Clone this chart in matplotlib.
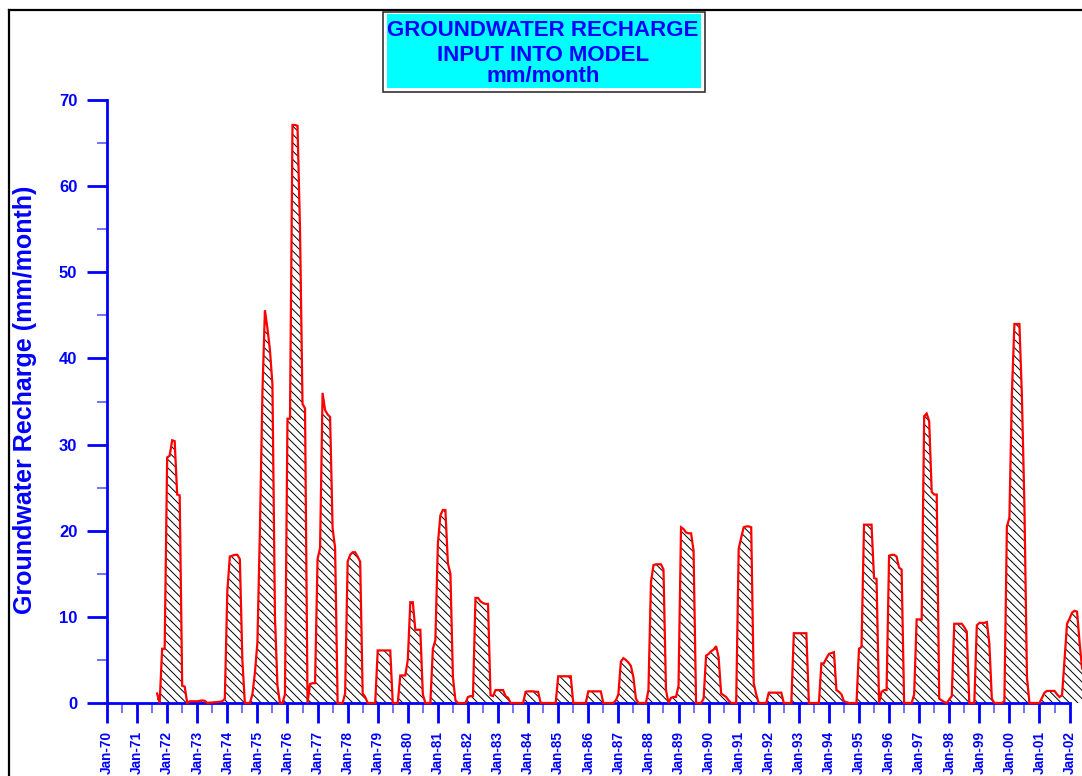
import matplotlib
matplotlib.use('Agg')
import matplotlib.pyplot as plt
from matplotlib.patches import Rectangle
from matplotlib.lines import Line2D
import numpy as np

plt.rcParams['font.family'] = ['Liberation Sans', 'DejaVu Sans']
plt.rcParams['font.weight'] = 'bold'
plt.rcParams['hatch.linewidth'] = 0.7
plt.rcParams['hatch.color'] = 'black'

# ---------------- data (mm/month), monthly values ----------------
first_year, first_month = 1971, 9          # series starts Sep-1971
rech_1971 = [1.1, 0.0, 6.3, 6.3]
rech_1972 = [28.5, 28.7, 30.5, 30.4, 24.2, 24.1, 2.0, 1.9, 0.0, 0.2, 0.2, 0.2]
rech_1973 = [0.2, 0.25, 0.3, 0.25, 0.0, 0.05, 0.05, 0.1, 0.1, 0.15, 0.2, 0.5]
rech_1974 = [13.0, 17.0, 17.1, 17.2, 17.2, 16.7, 5.0, 0.0, 0.0, 0.0, 1.0, 3.5]
rech_1975 = [7.0, 20.0, 36.0, 45.6, 43.5, 41.0, 37.0, 10.0, 2.0, 0.0, 0.0, 1.0]
rech_1976 = [33.0, 33.0, 67.1, 67.1, 67.0, 55.0, 34.7, 34.2, 0.0, 2.2, 2.3, 2.3]
rech_1977 = [16.7, 18.0, 36.0, 34.0, 33.5, 33.2, 20.3, 18.0, 0.0, 0.0, 0.0, 1.1]
rech_1978 = [16.4, 17.2, 17.5, 17.5, 17.0, 16.4, 1.1, 0.7, 0.0, 0.0, 0.0, 0.0]
rech_1979 = [6.1, 6.1, 6.1, 6.1, 6.1, 6.1, 0.0, 0.0, 0.0, 3.2, 3.2, 3.2]
rech_1980 = [5.0, 11.7, 11.7, 8.5, 8.5, 8.5, 1.0, 0.0, 0.0, 0.0, 6.3, 7.3]
rech_1981 = [18.5, 21.8, 22.4, 22.4, 16.2, 15.0, 3.0, 0.3, 0.0, 0.0, 0.0, 0.0]
rech_1982 = [0.7, 0.8, 0.8, 12.2, 12.2, 11.8, 11.6, 11.5, 11.5, 0.9, 0.8, 1.5]
rech_1983 = [1.5, 1.5, 1.5, 0.8, 0.6, 0.0, 0.0, 0.0, 0.0, 0.0, 0.0, 1.3]
rech_1984 = [1.35, 1.35, 1.35, 1.3, 1.3, 0.0, 0.0, 0.0, 0.0, 0.0, 0.0, 0.0]
rech_1985 = [3.1, 3.1, 3.1, 3.1, 3.1, 3.1, 0.0, 0.0, 0.0, 0.0, 0.0, 0.0]
rech_1986 = [1.35, 1.35, 1.35, 1.35, 1.35, 1.35, 0.0, 0.0, 0.0, 0.0, 0.0, 0.3]
rech_1987 = [1.0, 4.8, 5.2, 5.0, 4.7, 4.3, 3.0, 0.5, 0.0, 0.0, 0.0, 0.0]
rech_1988 = [1.5, 14.0, 16.0, 16.1, 16.1, 16.1, 15.5, 1.5, 0.0, 0.6, 0.7, 0.7]
rech_1989 = [2.0, 20.4, 20.2, 19.8, 19.7, 19.7, 17.7, 0.0, 0.0, 0.0, 0.5, 5.5]
rech_1990 = [5.7, 6.0, 6.2, 6.6, 5.3, 1.1, 0.9, 0.7, 0.3, 0.0, 0.0, 0.0]
rech_1991 = [17.9, 19.2, 20.4, 20.5, 20.5, 20.4, 2.3, 1.0, 0.0, 0.0, 0.0, 0.0]
rech_1992 = [1.2, 1.2, 1.2, 1.2, 1.2, 1.2, 0.0, 0.0, 0.0, 0.0, 8.1, 8.1]
rech_1993 = [8.1, 8.1, 8.1, 8.1, 0.0, 0.0, 0.0, 0.0, 0.0, 4.6, 4.6, 5.2]
rech_1994 = [5.7, 5.8, 5.9, 1.5, 1.3, 1.0, 0.2, 0.1, 0.0, 0.0, 0.0, 0.0]
rech_1995 = [6.3, 6.5, 20.7, 20.7, 20.7, 20.7, 14.5, 14.4, 0.0, 1.3, 1.5, 1.5]
rech_1996 = [17.1, 17.2, 17.2, 17.0, 15.7, 15.5, 0.0, 0.0, 0.0, 0.0, 1.0, 9.7]
rech_1997 = [9.7, 9.7, 33.3, 33.6, 32.7, 24.5, 24.2, 24.2, 0.5, 0.3, 0.1, 0.0]
rech_1998 = [0.4, 0.8, 9.2, 9.2, 9.2, 9.2, 8.8, 8.3, 0.0, 0.0, 0.0, 9.0]
rech_1999 = [9.3, 9.3, 9.3, 9.4, 6.9, 0.5, 0.0, 0.0, 0.0, 0.0, 0.2, 20.5]
rech_2000 = [21.5, 36.0, 44.0, 44.0, 44.0, 35.5, 22.8, 3.0, 0.0, 0.0, 0.0, 0.0]
rech_2001 = [0.0, 0.6, 1.2, 1.4, 1.4, 1.4, 1.4, 1.0, 0.7, 0.9, 5.0, 9.2]
rech_2002 = [9.8, 10.5, 10.7, 10.6, 7.0, 4.0]

tick_years = list(range(1970, 2003))
tick_labels = ['Jan-%02d' % (y % 100) for y in tick_years]

yearly = [rech_1971, rech_1972, rech_1973, rech_1974, rech_1975, rech_1976,
          rech_1977, rech_1978, rech_1979, rech_1980, rech_1981, rech_1982,
          rech_1983, rech_1984, rech_1985, rech_1986, rech_1987, rech_1988,
          rech_1989, rech_1990, rech_1991, rech_1992, rech_1993, rech_1994,
          rech_1995, rech_1996, rech_1997, rech_1998, rech_1999, rech_2000,
          rech_2001, rech_2002]
values = np.array([v for yr in yearly for v in yr])
# x = months since Jan-1970
months = np.arange(len(values)) + (first_year - 1970) * 12 + (first_month - 1)

# ---------------- figure ----------------
W, H = 1082, 776
fig = plt.figure(figsize=(W / 100, H / 100), dpi=100)

def fx(x):
    return x / W

def fy(y):
    return 1 - y / H

BLUE = '#0000ff'
ax_l, ax_r, ax_b, ax_t = 107, 1082, 703, 100
ax = fig.add_axes([fx(ax_l), fy(ax_b), fx(ax_r) - fx(ax_l), fy(ax_t) - fy(ax_b)])
px_per_month = 30.08 / 12
ax.set_xlim(0, (ax_r - ax_l) / px_per_month)
ax.set_ylim(0, 70)

ax.fill_between(months, 0, values, facecolor='none', edgecolor='black',
                hatch='\\\\\\\\', linewidth=0, zorder=1)
ax.plot(months, values, color='#ff0000', lw=1.6, zorder=4, clip_on=False,
        solid_joinstyle='miter')

for s in ['top', 'right']:
    ax.spines[s].set_visible(False)
for s in ['left', 'bottom']:
    ax.spines[s].set_color(BLUE)
    ax.spines[s].set_linewidth(2.0)
    ax.spines[s].set_zorder(3)
ax.spines['bottom'].set_bounds(0, 384)

ax.set_xticks([(y - 1970) * 12 for y in tick_years])
ax.set_xticklabels(tick_labels)
ax.set_xticks([(y - 1970) * 12 + 6 for y in tick_years[:-1]], minor=True)
ax.set_yticks(range(0, 71, 10))
ax.set_yticks(range(5, 70, 10), minor=True)

ax.tick_params(axis='x', which='major', length=14.4, width=2.0, color=BLUE,
               pad=5.5, labelsize=9.8, labelcolor=BLUE, labelrotation=90)
ax.tick_params(axis='x', which='minor', length=7.2, width=1.2, color='#5a5aff')
ax.tick_params(axis='y', which='major', length=14.4, width=2.0, color=BLUE,
               pad=7, labelsize=12, labelcolor=BLUE)
ax.tick_params(axis='y', which='minor', length=7.2, width=1.2, color='#5a5aff')

fig.text(fx(25), fy(400), 'Groundwater Recharge (mm/month)', rotation=90,
         ha='center', va='center', fontsize=18, color=BLUE, fontweight='bold')

# title box
fig.add_artist(Rectangle((fx(383), fy(92)), fx(705) - fx(383), fy(12) - fy(92),
                         transform=fig.transFigure, facecolor='white',
                         edgecolor='#333333', linewidth=1.2, zorder=5))
fig.add_artist(Rectangle((fx(387), fy(88)), fx(701) - fx(387), fy(14) - fy(88),
                         transform=fig.transFigure, facecolor='#00ffff',
                         edgecolor='none', zorder=6))
for txt, base in [('GROUNDWATER RECHARGE', 35.5), ('INPUT INTO MODEL', 61),
                  ('mm/month', 82)]:
    fig.text(fx(543), fy(base), txt, ha='center', va='baseline', fontsize=16,
             color=BLUE, fontweight='bold', zorder=7)

# figure frame
fig.add_artist(Line2D([fx(8.5), fx(8.5)], [0, fy(9.5)], color='black', lw=1.6,
                      transform=fig.transFigure))
fig.add_artist(Line2D([fx(8.5), 1], [fy(9.5), fy(9.5)], color='black', lw=1.6,
                      transform=fig.transFigure))

fig.savefig('out.png', dpi=100)
